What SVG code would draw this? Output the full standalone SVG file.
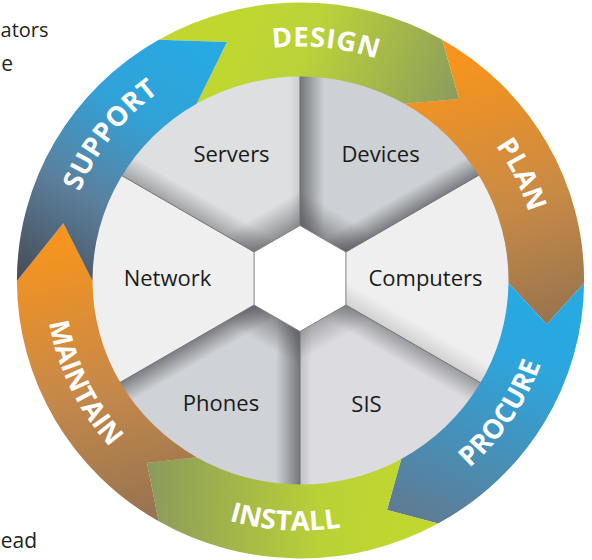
<svg xmlns="http://www.w3.org/2000/svg" width="592" height="560" viewBox="0 0 592 560">
<defs>
<style>
.lbl{font-family:"Open Sans","Liberation Sans",sans-serif;font-size:22px;fill:#1a1a1a;text-anchor:middle}
.ring{font-family:"Open Sans","Liberation Sans",sans-serif;font-size:27px;font-weight:700;fill:#ffffff;letter-spacing:0.6px}
.ringin{font-family:"Open Sans","Liberation Sans",sans-serif;font-size:27px;font-weight:700;fill:#ffffff;letter-spacing:0px}
.side{font-family:"Open Sans","Liberation Sans",sans-serif;font-size:21px;fill:#231f20}
.div{stroke:#6f7174;stroke-width:1;fill:none}
</style>
<linearGradient id="gDesign" gradientUnits="userSpaceOnUse" x1="230" y1="20" x2="450" y2="110">
<stop offset="0" stop-color="#c1d72f"/><stop offset="0.35" stop-color="#bbd23a"/><stop offset="1" stop-color="#8c9d5c"/>
</linearGradient>
<linearGradient id="gPlan" gradientUnits="userSpaceOnUse" x1="460" y1="60" x2="545" y2="325">
<stop offset="0" stop-color="#f7941d"/><stop offset="0.55" stop-color="#c98a45"/><stop offset="1" stop-color="#97744f"/>
</linearGradient>
<linearGradient id="gProcure" gradientUnits="userSpaceOnUse" x1="540" y1="300" x2="440" y2="525">
<stop offset="0" stop-color="#27a9e1"/><stop offset="0.25" stop-color="#2ca6de"/><stop offset="1" stop-color="#5e7c96"/>
</linearGradient>
<linearGradient id="gInstall" gradientUnits="userSpaceOnUse" x1="420" y1="500" x2="150" y2="490">
<stop offset="0" stop-color="#c1d72f"/><stop offset="0.35" stop-color="#bbd236"/><stop offset="1" stop-color="#8b9b5c"/>
</linearGradient>
<linearGradient id="gMaintain" gradientUnits="userSpaceOnUse" x1="60" y1="240" x2="120" y2="520">
<stop offset="0" stop-color="#f7941d"/><stop offset="0.55" stop-color="#c5884a"/><stop offset="1" stop-color="#97744f"/>
</linearGradient>
<linearGradient id="gSupport" gradientUnits="userSpaceOnUse" x1="180" y1="40" x2="40" y2="280">
<stop offset="0" stop-color="#27a9e1"/><stop offset="0.3" stop-color="#31a2d8"/><stop offset="0.65" stop-color="#5b809e"/><stop offset="1" stop-color="#49505a"/>
</linearGradient>
<linearGradient id="sDevL" gradientUnits="userSpaceOnUse" x1="300" y1="0" x2="324" y2="0">
<stop offset="0" stop-color="#4c4e52" stop-opacity="0.7"/><stop offset="1" stop-color="#4c4e52" stop-opacity="0"/>
</linearGradient>
<linearGradient id="sDevB" gradientUnits="userSpaceOnUse" x1="345.9" y1="252" x2="334.9" y2="232.9">
<stop offset="0" stop-color="#4c4e52" stop-opacity="0.65"/><stop offset="1" stop-color="#4c4e52" stop-opacity="0"/>
</linearGradient>
<linearGradient id="sDevH" gradientUnits="userSpaceOnUse" x1="322.95" y1="238.75" x2="337.95" y2="212.77">
<stop offset="0" stop-color="#4c4e52" stop-opacity="0.55"/><stop offset="1" stop-color="#4c4e52" stop-opacity="0"/>
</linearGradient>
<linearGradient id="sSrvB" gradientUnits="userSpaceOnUse" x1="254.1" y1="252" x2="265.1" y2="232.9">
<stop offset="0" stop-color="#55575b" stop-opacity="0.45"/><stop offset="1" stop-color="#55575b" stop-opacity="0"/>
</linearGradient>
<linearGradient id="sSrvH" gradientUnits="userSpaceOnUse" x1="277.05" y1="238.75" x2="262.05" y2="212.77">
<stop offset="0" stop-color="#4c4e52" stop-opacity="0.55"/><stop offset="1" stop-color="#4c4e52" stop-opacity="0"/>
</linearGradient>
<linearGradient id="sPhR" gradientUnits="userSpaceOnUse" x1="300" y1="0" x2="276" y2="0">
<stop offset="0" stop-color="#4c4e52" stop-opacity="0.7"/><stop offset="1" stop-color="#4c4e52" stop-opacity="0"/>
</linearGradient>
<linearGradient id="sPhT" gradientUnits="userSpaceOnUse" x1="254.1" y1="305" x2="265.1" y2="324.1">
<stop offset="0" stop-color="#4c4e52" stop-opacity="0.65"/><stop offset="1" stop-color="#4c4e52" stop-opacity="0"/>
</linearGradient>
<linearGradient id="sPhH" gradientUnits="userSpaceOnUse" x1="277.05" y1="318.25" x2="262.05" y2="344.23">
<stop offset="0" stop-color="#4c4e52" stop-opacity="0.55"/><stop offset="1" stop-color="#4c4e52" stop-opacity="0"/>
</linearGradient>
<linearGradient id="sSisT" gradientUnits="userSpaceOnUse" x1="345.9" y1="305" x2="334.9" y2="324.1">
<stop offset="0" stop-color="#55575b" stop-opacity="0.5"/><stop offset="1" stop-color="#55575b" stop-opacity="0"/>
</linearGradient>
<linearGradient id="sSisH" gradientUnits="userSpaceOnUse" x1="322.95" y1="318.25" x2="335.95" y2="340.77">
<stop offset="0" stop-color="#55575b" stop-opacity="0.4"/><stop offset="1" stop-color="#55575b" stop-opacity="0"/>
</linearGradient>
<linearGradient id="sSisL" gradientUnits="userSpaceOnUse" x1="300" y1="0" x2="312" y2="0">
<stop offset="0" stop-color="#55575b" stop-opacity="0.2"/><stop offset="1" stop-color="#55575b" stop-opacity="0"/>
</linearGradient>
<linearGradient id="sCmpB" gradientUnits="userSpaceOnUse" x1="345.9" y1="305" x2="355.9" y2="287.7">
<stop offset="0" stop-color="#55575b" stop-opacity="0.2"/><stop offset="1" stop-color="#55575b" stop-opacity="0"/>
</linearGradient>
<linearGradient id="sSrvL" gradientUnits="userSpaceOnUse" x1="300" y1="0" x2="290" y2="0">
<stop offset="0" stop-color="#55575b" stop-opacity="0.15"/><stop offset="1" stop-color="#55575b" stop-opacity="0"/>
</linearGradient>
</defs>

<rect width="592" height="560" fill="#ffffff"/>

<g id="side-text">
<text class="side" x="48.5" y="37" text-anchor="end" style="font-size:20px">ators</text>
<text class="side" x="13" y="71" text-anchor="end">e</text>
<text class="side" x="37" y="548" text-anchor="end">ead</text>
</g>

<g id="sector-servers">
<polygon points="300,225.5 300,8.5 66.2,143.5 254.1,252" fill="#dedfe1"/>
<polygon points="300,225.5 300,8.5 66.2,143.5 254.1,252" fill="url(#sSrvB)"/>
<polygon points="300,225.5 300,8.5 66.2,143.5 254.1,252" fill="url(#sSrvH)"/>
<polygon points="300,225.5 300,8.5 66.2,143.5 254.1,252" fill="url(#sSrvL)"/>
<text class="lbl" x="231.5" y="162">Servers</text>
</g>
<g id="sector-devices">
<polygon points="300,225.5 300,8.5 533.8,143.5 345.9,252" fill="#cdd0d4"/>
<polygon points="300,225.5 300,8.5 533.8,143.5 345.9,252" fill="url(#sDevL)"/>
<polygon points="300,225.5 300,8.5 533.8,143.5 345.9,252" fill="url(#sDevB)"/>
<polygon points="300,225.5 300,8.5 533.8,143.5 345.9,252" fill="url(#sDevH)"/>
<text class="lbl" x="380.5" y="162">Devices</text>
</g>
<g id="sector-computers">
<polygon points="345.9,252 533.8,143.5 533.8,413.5 345.9,305" fill="#efefef"/>
<polygon points="345.9,252 533.8,143.5 533.8,413.5 345.9,305" fill="url(#sCmpB)"/>
<text class="lbl" x="425.5" y="286">Computers</text>
</g>
<g id="sector-sis">
<polygon points="345.9,305 533.8,413.5 300,548.5 300,331.5" fill="#dcdce0"/>
<polygon points="345.9,305 533.8,413.5 300,548.5 300,331.5" fill="url(#sSisT)"/>
<polygon points="345.9,305 533.8,413.5 300,548.5 300,331.5" fill="url(#sSisH)"/>
<polygon points="345.9,305 533.8,413.5 300,548.5 300,331.5" fill="url(#sSisL)"/>
<text class="lbl" x="366.5" y="412">SIS</text>
</g>
<g id="sector-phones">
<polygon points="300,331.5 300,548.5 66.2,413.5 254.1,305" fill="#cfd2d6"/>
<polygon points="300,331.5 300,548.5 66.2,413.5 254.1,305" fill="url(#sPhR)"/>
<polygon points="300,331.5 300,548.5 66.2,413.5 254.1,305" fill="url(#sPhT)"/>
<polygon points="300,331.5 300,548.5 66.2,413.5 254.1,305" fill="url(#sPhH)"/>
<text class="lbl" x="221" y="410.5">Phones</text>
</g>
<g id="sector-network">
<polygon points="254.1,305 66.2,413.5 66.2,143.5 254.1,252" fill="#efeff0"/>
<text class="lbl" x="167.5" y="286">Network</text>
</g>

<g id="dividers">
<line class="div" x1="300" y1="225.5" x2="300" y2="60"/>
<line class="div" x1="345.9" y1="252" x2="500" y2="163"/>
<line class="div" x1="345.9" y1="305" x2="500" y2="394"/>
<line class="div" x1="300" y1="331.5" x2="300" y2="500"/>
<line class="div" x1="254.1" y1="305" x2="100" y2="394"/>
<line class="div" x1="254.1" y1="252" x2="100" y2="163"/>
</g>

<g id="hub">
<polygon points="300,225.5 345.9,252 345.9,305 300,331.5 254.1,305 254.1,252" fill="#ffffff" stroke="#7d7f82" stroke-width="1"/>
</g>

<g id="connectors"></g>

<g id="arrow-design">
<path d="M158.7 39.7 A283.6 278 0 0 1 442.3 39.7 L459 99 L404.5 103.8 A208 204 0 0 0 196.5 103.8 L227 42 Z" fill="url(#gDesign)"/>
</g>
<g id="arrow-plan">
<path d="M442.3 39.7 A283.6 278 0 0 1 584.1 283 L546.7 324.3 L508.5 283 A208 204 0 0 0 404.5 103.8 L459 99 Z" fill="url(#gPlan)"/>
</g>
<g id="arrow-procure">
<path d="M584.1 283 A283.6 278 0 0 1 438 523.6 L387 510 L401.3 458.9 A208 204 0 0 0 508.5 283 L546.7 324.3 Z" fill="url(#gProcure)"/>
</g>
<g id="arrow-install">
<path d="M438 523.6 A283.6 278 0 0 1 158.7 521.3 L147 463 L196.5 457.2 A208 204 0 0 0 401.3 458.9 L387 510 Z" fill="url(#gInstall)"/>
</g>
<g id="arrow-maintain">
<path d="M158.7 521.3 A283.6 278 0 0 1 16.9 281 L63.3 223.3 L92.5 281 A208 204 0 0 0 196.5 457.2 L147 463 Z" fill="url(#gMaintain)"/>
</g>
<g id="arrow-support">
<path d="M16.9 281 A283.6 278 0 0 1 158.7 39.7 L227 42 L196.5 103.8 A208 204 0 0 0 92.5 281 L63.3 223.3 Z" fill="url(#gSupport)"/>
</g>

<g id="ring-labels" transform="translate(300.5 280.5) scale(1.02 1)">
<path id="tpDesign" d="M-162.6 -168.3 A234 234 0 0 1 194 -130.9" fill="none"/>
<path id="tpPlan" d="M56.6 -227.1 A234 234 0 0 1 213.8 95.2" fill="none"/>
<path id="tpSupport" d="M-228.9 48.6 A234 234 0 0 1 -8.2 -233.9" fill="none"/>
<path id="tpProcure" d="M26.1 248.6 A250 250 0 0 0 240.3 -68.9" fill="none"/>
<path id="tpInstall" d="M-201.2 148.4 A250 250 0 0 0 181.1 172.4" fill="none"/>
<path id="tpMaintain" d="M-227.9 -102.9 A250 250 0 0 0 -61.8 242.3" fill="none"/>
<text class="ring"><textPath href="#tpDesign" startOffset="50%" text-anchor="middle">DESIGN</textPath></text>
<text class="ring"><textPath href="#tpPlan" startOffset="50%" text-anchor="middle">PLAN</textPath></text>
<text class="ring"><textPath href="#tpSupport" startOffset="50%" text-anchor="middle">SUPPORT</textPath></text>
<text class="ringin"><textPath href="#tpProcure" startOffset="50%" text-anchor="middle">PROCURE</textPath></text>
<text class="ringin"><textPath href="#tpInstall" startOffset="50%" text-anchor="middle">INSTALL</textPath></text>
<text class="ringin"><textPath href="#tpMaintain" startOffset="50%" text-anchor="middle">MAINTAIN</textPath></text>
</g>
</svg>
